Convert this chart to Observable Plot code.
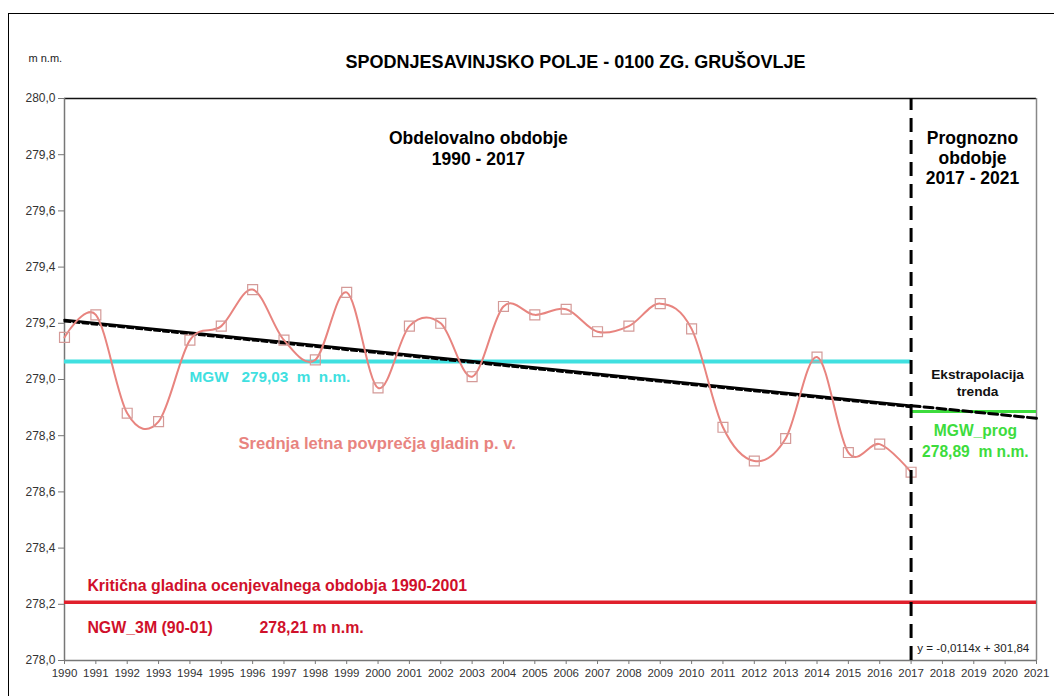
<!DOCTYPE html>
<html>
<head>
<meta charset="utf-8">
<script src="https://cdn.jsdelivr.net/npm/d3@7"></script>
<script src="https://cdn.jsdelivr.net/npm/@observablehq/plot@0.6"></script>
<style>
  html, body { margin: 0; padding: 0; background: #fff; }
  #wrap { position: relative; width: 1054px; height: 696px; overflow: hidden; }
  #frame { position: absolute; left: 8px; top: 13px; width: 2000px; height: 2000px;
           border-left: 1px solid #000; border-top: 1.5px solid #000; pointer-events: none; }
  svg { font-family: "Liberation Sans", Arial, sans-serif; }
</style>
</head>
<body>
<div id="wrap"><div id="frame"></div></div>
<script>
// ---- data ----
const years = [1990,1991,1992,1993,1994,1995,1996,1997,1998,1999,2000,2001,2002,2003,
               2004,2005,2006,2007,2008,2009,2010,2011,2012,2013,2014,2015,2016,2017];
const levels = [279.15,279.23,278.88,278.85,279.14,279.19,279.32,279.14,279.07,279.31,
                278.97,279.19,279.20,279.01,279.26,279.23,279.25,279.17,279.19,279.27,
                279.18,278.83,278.71,278.79,279.08,278.74,278.77,278.67];
const trendYears = [1990, 2017, 2021];
const trendValues = [279.212, 278.907, 278.862];
const mgwValue = 279.064;          // MGW line (labelled 279,03)
const mgwProgValue = 278.886;      // MGW_prog 278,89
const ngwValue = 278.207;          // NGW_3M 278,21
const splitYear = 2017;
const xTicks = d3.range(1990, 2022);
const yTicks = [278.0, 278.2, 278.4, 278.6, 278.8, 279.0, 279.2, 279.4, 279.6, 279.8, 280.0];

const series = years.map((y, i) => ({year: y, level: levels[i]}));
const trend = trendYears.map((y, i) => ({year: y, value: trendValues[i]}));
const trendHist = trend.filter(d => d.year <= splitYear);
const trendProg = trend.filter(d => d.year >= splitYear);

const fmt = d => d.toFixed(1).replace(".", ",");
const font = "Liberation Sans, Arial, sans-serif";
const red = "#d0102a";

const chart = Plot.plot({
  width: 1054,
  height: 696,
  marginLeft: 64,
  marginRight: 18,
  marginTop: 98,
  marginBottom: 36,
  style: {fontFamily: font, background: "transparent", overflow: "visible"},
  x: {domain: [1990, 2021], ticks: xTicks, tickFormat: d => String(d)},
  y: {domain: [278, 280], ticks: yTicks, tickFormat: fmt},
  marks: [
    // frame lines
    Plot.ruleY([280], {stroke: "#111", strokeWidth: 1.5}),
    Plot.ruleX([2021], {stroke: "#888", strokeWidth: 1.5}),
    // axes
    Plot.axisY({ticks: yTicks, tickFormat: fmt, tickSize: 6, tickPadding: 3, fontSize: 12, color: "#333", stroke: "#777", label: null}),
    Plot.axisX({ticks: xTicks, tickFormat: d => String(d), tickSize: 4, tickPadding: 4, fontSize: 11.5, color: "#333", stroke: "#777", label: null}),
    Plot.ruleX([1990], {stroke: "#777", strokeWidth: 1.5}),
    Plot.ruleY([278], {stroke: "#777", strokeWidth: 1.5}),

    // reference lines
    Plot.ruleY([mgwValue], {x1: 1990, x2: splitYear, stroke: "#40e0e0", strokeWidth: 4}),
    Plot.ruleY([mgwProgValue], {x1: splitYear, x2: 2021, stroke: "#3ddc3d", strokeWidth: 3}),
    Plot.ruleY([ngwValue], {x1: 1990, x2: 2021, stroke: "#e0202c", strokeWidth: 3.5}),

    // trend
    Plot.line(trendHist, {x: "year", y: "value", stroke: "#000", strokeWidth: 2.5}),
    Plot.line(trendHist, {x: "year", y: "value", stroke: "#000", strokeWidth: 2, strokeDasharray: "6,3", dy: 1.5}),
    Plot.line(trendProg, {x: "year", y: "value", stroke: "#000", strokeWidth: 3, strokeDasharray: "9,4"}),

    // series
    Plot.line(series, {x: "year", y: "level", curve: "cardinal", stroke: "#e8847f", strokeWidth: 2}),
    Plot.dot(series, {x: "year", y: "level", symbol: "square", r: 5.6, stroke: "#d49a98", strokeWidth: 1.2, fill: "none"}),

    // vertical split
    Plot.ruleX([splitYear], {y1: 278, y2: 280, stroke: "#000", strokeWidth: 3, strokeDasharray: "14,8"}),

    // title and unit
    Plot.text(["SPODNJESAVINJSKO POLJE - 0100 ZG. GRUŠOVLJE"], {frameAnchor: "top", dx: 25, dy: -43, fontSize: 18, fontWeight: "bold", fill: "#000"}),
    Plot.text(["m n.m."], {frameAnchor: "top-left", dx: -36, dy: -44, textAnchor: "start", fontSize: 11, fill: "#222"}),

    // annotations
    Plot.text(["Obdelovalno obdobje\n1990 - 2017"], {x: 2003.2, y: 279.825, fontSize: 17.5, fontWeight: "bold", lineHeight: 1.2, fill: "#000"}),
    Plot.text(["Prognozno\nobdobje\n2017 - 2021"], {x: 2018.96, y: 279.79, fontSize: 17.5, fontWeight: "bold", lineHeight: 1.15, fill: "#000"}),
    Plot.text(["Ekstrapolacija\ntrenda"], {x: 2019.12, y: 278.991, fontSize: 13.7, fontWeight: "bold", lineHeight: 1.25, fill: "#111"}),
    Plot.text(["MGW_prog\n278,89\u00a0\u00a0m\u00a0n.m."], {x: 2019.05, y: 278.785, fontSize: 15.6, fontWeight: "bold", lineHeight: 1.35, fill: "#3ddc3d"}),
    Plot.text(["MGW\u00a0\u00a0\u00a0279,03\u00a0\u00a0m\u00a0\u00a0n.m."], {x: 1993.99, y: 279.007, textAnchor: "start", fontSize: 15.3, fontWeight: "bold", fill: "#40e0e0"}),
    Plot.text(["Srednja letna povprečja gladin p. v."], {x: 1995.55, y: 278.772, textAnchor: "start", fontSize: 16.6, fontWeight: "bold", fill: "#e8847f"}),
    Plot.text(["Kritična gladina ocenjevalnega obdobja 1990-2001"], {x: 1990.73, y: 278.267, textAnchor: "start", fontSize: 15.9, fontWeight: "bold", fill: red}),
    Plot.text(["NGW_3M (90-01)"], {x: 1990.73, y: 278.117, textAnchor: "start", fontSize: 15.9, fontWeight: "bold", fill: red}),
    Plot.text(["278,21 m n.m."], {x: 1996.22, y: 278.117, textAnchor: "start", fontSize: 15.9, fontWeight: "bold", fill: red}),
    Plot.text(["y = -0,0114x + 301,84"], {x: 2017.2, y: 278.043, textAnchor: "start", fontSize: 11.6, fill: "#222"})
  ]
});
chart.style.position = "absolute";
chart.style.left = "0px";
chart.style.top = "0px";
document.getElementById("wrap").appendChild(chart);
</script>
</body>
</html>
